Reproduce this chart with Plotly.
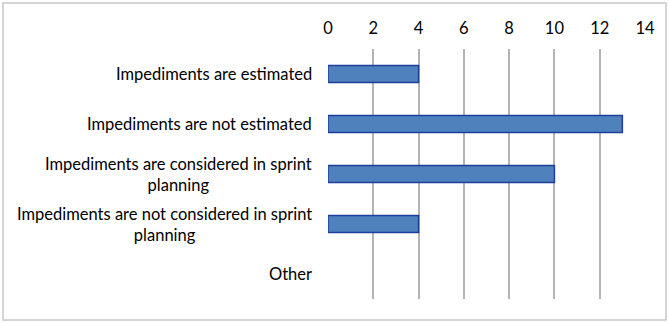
import plotly.graph_objects as go

# Survey answers about impediment handling
categories = [
    "Impediments are estimated",
    "Impediments are not estimated",
    "Impediments are considered in sprint<br>planning",
    "Impediments are not considered in sprint<br>planning",
    "Other",
]
counts = [4, 13, 10, 4, 0]
x_ticks = [0, 2, 4, 6, 8, 10, 12, 14]

W, H = 669, 323
L, R, T, B = 328, 24, 49, 24
pw, ph = W - L - R, H - T - B

FONT = "Lato, 'Open Sans', sans-serif"
FS = 16.5

fig = go.Figure(
    go.Bar(
        x=counts,
        y=categories,
        orientation="h",
        marker=dict(
            color="#4f81bd",
            line=dict(color="#1c3f9c", width=[0 if v == 0 else 1.5 for v in counts]),
        ),
        width=0.34,
        hoverinfo="skip",
    )
)

# category labels with centered multi-line text
for cat in categories:
    fig.add_annotation(
        x=0, y=cat, xref="paper", yref="y",
        text=cat, showarrow=False,
        xanchor="right", yanchor="middle", align="center",
        xshift=-14,
        font=dict(family=FONT, size=FS, color="#000000"),
    )

# outer chart border
fig.add_shape(
    type="rect", xref="paper", yref="paper",
    x0=(3 - L) / pw, x1=(666 - L) / pw,
    y0=(H - B - 320) / ph, y1=(H - B - 3) / ph,
    line=dict(color="#c8c8c8", width=1.5),
    fillcolor="rgba(0,0,0,0)", layer="below",
)

fig.update_layout(
    width=W, height=H,
    margin=dict(l=L, r=R, t=T, b=B),
    paper_bgcolor="white", plot_bgcolor="white",
    showlegend=False,
    font=dict(family=FONT, size=FS, color="#000000"),
    xaxis=dict(
        side="top", range=[0, 14], tickvals=x_ticks,
        showgrid=True, gridcolor="#b4b4b4", gridwidth=2,
        zeroline=False, showline=False, ticks="", ticklen=0,
        ticklabelstandoff=11,
        fixedrange=True,
    ),
    yaxis=dict(
        categoryorder="array", categoryarray=categories[::-1],
        autorange=True, showticklabels=False,
        showgrid=False, zeroline=False, showline=False, ticks="",
        fixedrange=True,
    ),
)

fig.write_html("out.html")
